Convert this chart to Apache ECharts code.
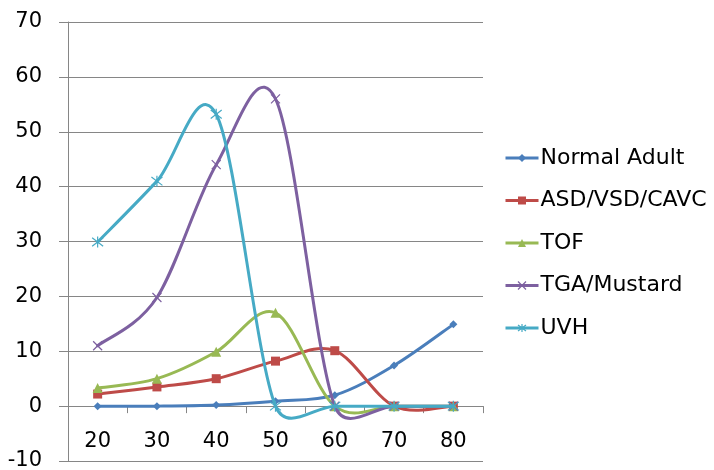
<!DOCTYPE html>
<html><head><meta charset="utf-8">
<script src="https://cdn.jsdelivr.net/npm/echarts@6/dist/echarts.min.js"></script>
<style>html,body{margin:0;padding:0;background:#fff}#c{width:714px;height:470px}</style>
</head><body><div id="c"></div>
<script>
var categories = ['20','30','40','50','60','70','80'];
var normalAdult = [0, 0, 0.2, 0.9, 2.0, 7.4, 14.9];
var asdVsdCavc = [2.2, 3.5, 5.0, 8.2, 10.1, 0, 0];
var tof = [3.3, 5.0, 9.9, 17.0, 0, 0, 0];
var tgaMustard = [11.0, 19.8, 44.0, 56.0, 0, 0, 0];
var uvh = [29.9, 41.0, 53.2, 0, 0, 0, 0];
var seriesNames = ['Normal Adult','ASD/VSD/CAVC','TOF','TGA/Mustard','UVH'];

var colors = ['#4A7EBB','#BE4B48','#98B954','#7D60A0','#46AAC5'];
var symX = 'path://M0,0L10,10M10,0L0,10';
var symStar = 'path://M0,0L10,10M10,0L0,10M5,-1.5L5,11.5';
var symbols = ['diamond','rect','triangle',symX,symStar];
var sizes = [8,9,10,9,11];
var dataSets = [normalAdult, asdVsdCavc, tof, tgaMustard, uvh];
var font = 'DejaVu Sans';

// Excel-style smoothed line: Catmull-Rom Bezier (1/6) with control vectors limited to half the segment length
function smoothRender(arr, color){
  return function(params, api){
    var i = params.dataIndex;
    if (i >= arr.length - 1) return null;
    function P(k){ k = Math.max(0, Math.min(arr.length-1, k)); return api.coord([k, arr[k]]); }
    var p0 = P(i-1), p1 = P(i), p2 = P(i+1), p3 = P(i+2);
    var d12 = Math.hypot(p2[0]-p1[0], p2[1]-p1[1]);
    function ctrl(a, b){
      var vx = (b[0]-a[0])/6, vy = (b[1]-a[1])/6;
      var L = Math.hypot(vx, vy), lim = d12/2;
      if (L > lim && L > 0) { vx *= lim/L; vy *= lim/L; }
      return [vx, vy];
    }
    var v1 = ctrl(p0, p2), v2 = ctrl(p1, p3);
    return {
      type:'bezierCurve',
      shape:{x1:p1[0],y1:p1[1],x2:p2[0],y2:p2[1],
        cpx1:p1[0]+v1[0],cpy1:p1[1]+v1[1],cpx2:p2[0]-v2[0],cpy2:p2[1]-v2[1]},
      style:{stroke:color,lineWidth:3,fill:null,lineCap:'round'},
      silent:true
    };
  };
}

var series = [];
dataSets.forEach(function(d,i){
  series.push({name:seriesNames[i],type:'line',data:d,
    symbol:symbols[i],symbolSize:sizes[i],showSymbol:true,
    lineStyle:{width:3,color:colors[i],opacity:0},
    itemStyle:{color:colors[i],borderColor:colors[i],borderWidth:i>=3?1.2:0},
    z:3+i*2});
});
dataSets.forEach(function(d,i){
  series.push({name:seriesNames[i],type:'custom',coordinateSystem:'cartesian2d',
    renderItem:smoothRender(d, colors[i]),
    data:d.map(function(v,k){return [k,v];}),
    encode:{x:0,y:1},z:2+i*2,clip:false});
});

var chart = echarts.init(document.getElementById('c'));
chart.setOption({
  animation:false,
  color: colors,
  grid:{left:68,right:231,top:22,bottom:9,containLabel:false,outerBoundsMode:'none'},
  legend:{orient:'vertical',left:499,top:142,itemGap:20.5,itemWidth:33,itemHeight:10,
    textStyle:{fontFamily:font,fontSize:22,color:'#000',padding:[0,0,0,-3]},
    data:seriesNames.map(function(n,i){
      return {name:n,
        lineStyle:{width:3,color:colors[i],opacity:1},
        itemStyle:{color:colors[i],borderColor:colors[i],borderWidth:i>=3?1.2:0}};
    })},
  xAxis:{type:'category',data:categories,boundaryGap:true,
    axisLine:{onZero:true,lineStyle:{color:'#868686',width:1}},
    axisTick:{show:true,length:7,alignWithLabel:false,lineStyle:{color:'#868686'}},
    axisLabel:{margin:-30,fontFamily:font,fontSize:21,color:'#000'},
    splitLine:{show:false}},
  yAxis:{type:'value',min:-10,max:70,interval:10,
    axisLine:{show:true,onZero:false,lineStyle:{color:'#868686',width:1}},
    axisTick:{show:true,length:9,lineStyle:{color:'#868686'}},
    axisLabel:{margin:26,fontFamily:font,fontSize:21,color:'#000'},
    splitLine:{show:true,lineStyle:{color:'#868686',width:1}}},
  series: series
});
</script></body></html>
